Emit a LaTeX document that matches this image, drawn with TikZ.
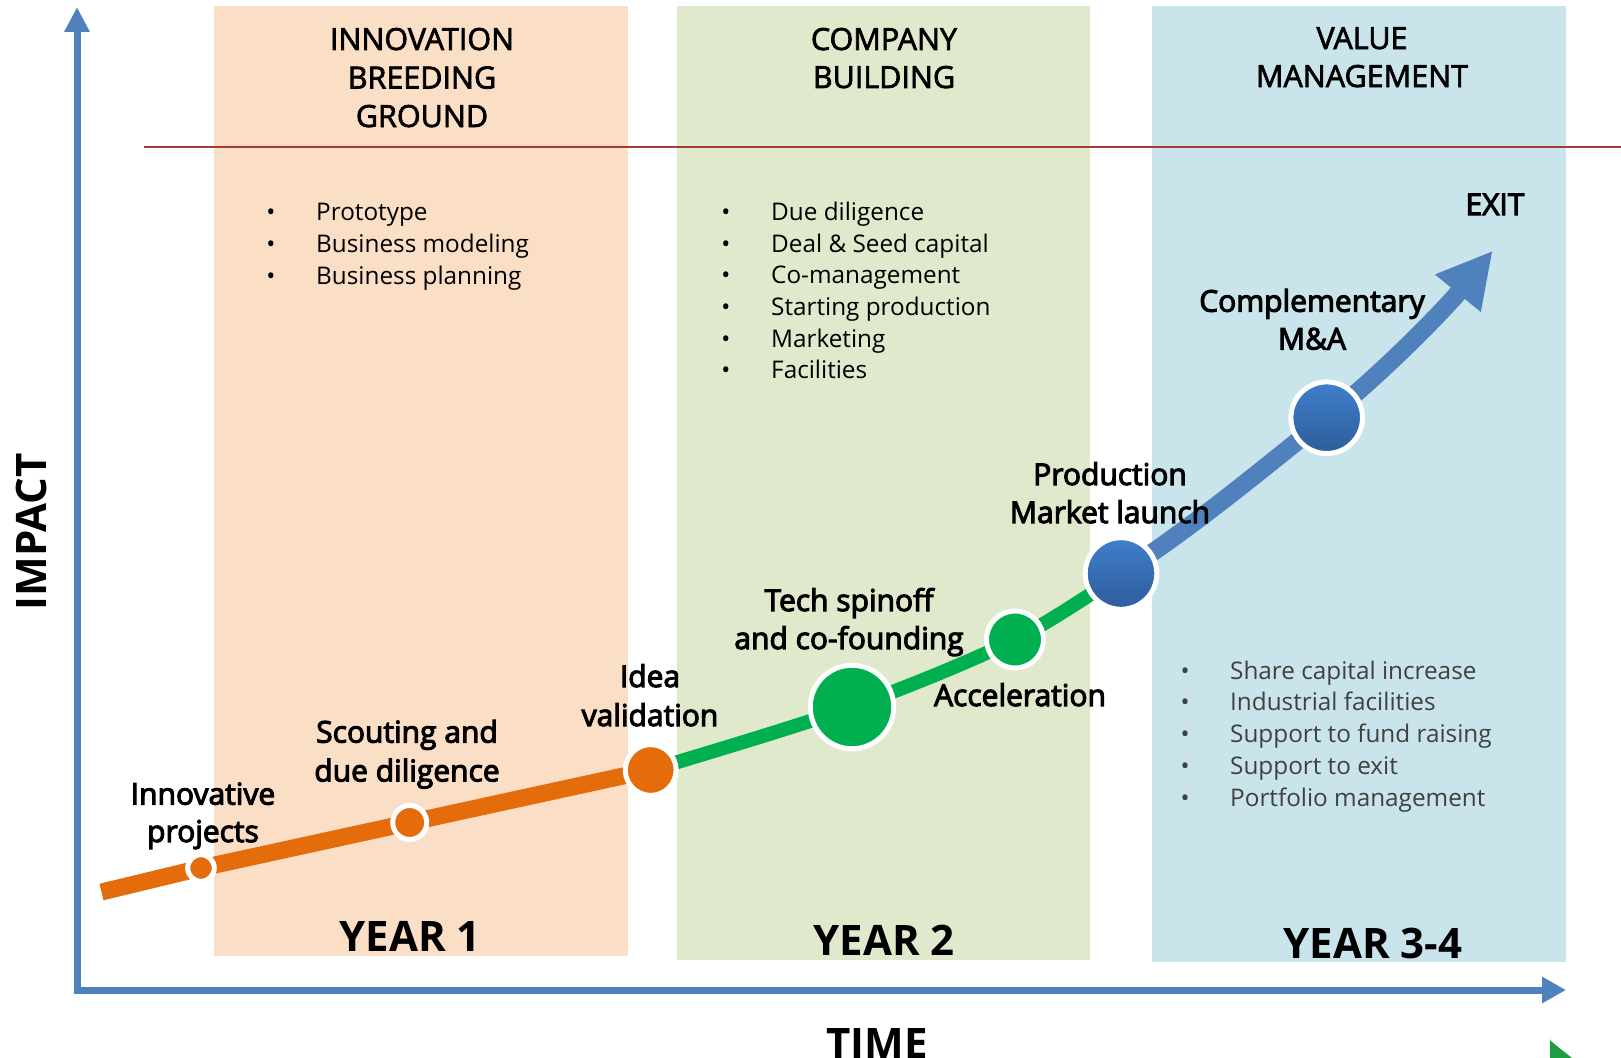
\documentclass[tikz,border=0pt]{standalone}
\usepackage{fontspec}
\setmainfont{Open Sans}
\newfontfamily\semib[FakeBold=3.5]{Open Sans}
\newfontfamily\headf[FakeBold=2.3]{Open Sans}
\usetikzlibrary{arrows.meta}
\definecolor{panelO}{HTML}{FADEC6}
\definecolor{panelG}{HTML}{E1E9CD}
\definecolor{panelB}{HTML}{C9E5EB}
\definecolor{axisblue}{HTML}{4F81BD}
\definecolor{redrule}{HTML}{A33A35}
\definecolor{orangeline}{HTML}{E46C0A}
\definecolor{greenline}{HTML}{00B050}
\definecolor{bluetop}{HTML}{3F7FCC}
\definecolor{bluebot}{HTML}{2E5C9A}
\definecolor{graytext}{HTML}{404040}
\definecolor{fragment}{HTML}{1F9D45}
\pgfdeclarelayer{back}
\pgfdeclarelayer{lines}
\pgfsetlayers{back,lines,main}
\begin{document}
\begin{tikzpicture}[x=1pt,y=-1pt,
  head/.style={font=\headf\fontsize{30.5pt}{36pt}\selectfont, anchor=base, inner sep=0pt},
  lbl/.style={font=\semib\fontsize{30pt}{36pt}\selectfont, anchor=base, inner sep=0pt},
  item/.style={font=\fontsize{24.3pt}{30pt}\selectfont, anchor=base west, inner sep=0pt},
  dotmark/.style={font=\fontsize{24pt}{30pt}\selectfont, anchor=base, inner sep=0pt},
  yr/.style={font=\bfseries\fontsize{42pt}{50pt}\selectfont, anchor=base, inner sep=0pt},
  ring/.style={circle, draw=white, line width=5pt, inner sep=0pt, outer sep=0pt},
  odot/.style={ring, fill=orangeline},
  gdot/.style={ring, fill=greenline},
  bdot/.style={ring, top color=bluetop, bottom color=bluebot, minimum size=71.6pt},
  axis/.style={draw=axisblue, line width=7pt, line join=miter},
  oline/.style={draw=orangeline, line width=17pt},
  gline/.style={draw=greenline, line width=14pt},
  bline/.style={draw=axisblue, fill=none, line width=18pt}
]
\useasboundingbox (0,0) rectangle (1621,1057);
\clip (0,0) rectangle (1621,1057);

\begin{pgfonlayer}{back}
  \fill[panelO] (214,6) rectangle (628,956);
  \fill[panelG] (677,6) rectangle (1090,960);
  \fill[panelB] (1152,6) rectangle (1566,962);
  \draw[redrule, line width=2pt] (144,147) -- (1621,147);
\end{pgfonlayer}

% axes
\coordinate (origin) at (77,990);
\coordinate (ytip) at (77,7);
\coordinate (xtip) at (1566,990);
\draw[axis, {Triangle[length=25pt,width=24pt]}-{Triangle[length=24pt,width=25pt]}] (ytip) -- (origin) -- (xtip);

% milestone dots
\node[odot, minimum size=26.6pt] (innov) at (201,868) {};
\node[odot, minimum size=34pt] (scout) at (409.7,822.5) {};
\node[odot, minimum size=50.8pt] (idea) at (650.7,770) {};
\node[gdot, minimum size=83.5pt] (tech) at (852,707) {};
\node[gdot, minimum size=57pt] (accel) at (1015,639.5) {};
\node[bdot] (prod) at (1121,573.5) {};
\node[bdot] (compl) at (1326.7,417.7) {};
\coordinate (ostart) at (101.5,892);
\coordinate (exittip) at (1492.7,250.7);

\begin{pgfonlayer}{lines}
  \draw[oline] (ostart) -- (innov.center) -- (scout.center) -- (idea.center);
  \draw[gline] plot[smooth, tension=0.55] coordinates {(idea.center) (tech.center) (accel.center) (prod.center)};
  \draw[bline, -{Triangle[length=55pt,width=55pt]}] (prod.center) .. controls +(70,-45) and +(-65,52) .. (compl.center) .. controls +(60,-48) and +(-45,55) .. (exittip);
\end{pgfonlayer}

% headings
\node[head] (h1a) at (422,50) {INNOVATION};
\node[head] (h1b) at (422,88.5) {BREEDING};
\node[head] (h1c) at (422,127) {GROUND};
\node[head] (h2a) at (884,50) {COMPANY};
\node[head] (h2b) at (884,88) {BUILDING};
\node[head] (h3a) at (1362,49) {VALUE};
\node[head] (h3b) at (1362,87) {MANAGEMENT};

% orange list
\node[dotmark] (ob1) at (271,220.7) {•};
\node[item] (oi1) at (316,220.7) {Prototype};
\node[dotmark] (ob2) at (271,252.3) {•};
\node[item] (oi2) at (316,252.3) {Business modeling};
\node[dotmark] (ob3) at (271,284) {•};
\node[item] (oi3) at (316,284) {Business planning};

% green list
\node[dotmark] (gb1) at (726,220.7) {•};
\node[item] (gi1) at (771,220.7) {Due diligence};
\node[dotmark] (gb2) at (726,252.3) {•};
\node[item] (gi2) at (771,252.3) {Deal \& Seed capital};
\node[dotmark] (gb3) at (726,283.9) {•};
\node[item] (gi3) at (771,283.9) {Co-management};
\node[dotmark] (gb4) at (726,315.5) {•};
\node[item] (gi4) at (771,315.5) {Starting production};
\node[dotmark] (gb5) at (726,347.1) {•};
\node[item] (gi5) at (771,347.1) {Marketing};
\node[dotmark] (gb6) at (726,378.7) {•};
\node[item] (gi6) at (771,378.7) {Facilities};

% blue list
\begin{scope}[every node/.append style={text=graytext}]
\node[dotmark] (bb1) at (1185,679) {•};
\node[item] (bi1) at (1230,679) {Share capital increase};
\node[dotmark] (bb2) at (1185,710.8) {•};
\node[item] (bi2) at (1230,710.8) {Industrial facilities};
\node[dotmark] (bb3) at (1185,742.6) {•};
\node[item] (bi3) at (1230,742.6) {Support to fund raising};
\node[dotmark] (bb4) at (1185,774.4) {•};
\node[item] (bi4) at (1230,774.4) {Support to exit};
\node[dotmark] (bb5) at (1185,806.2) {•};
\node[item] (bi5) at (1230,806.2) {Portfolio management};
\end{scope}

% milestone labels
\node[lbl] (l1a) at (203,804.6) {Innovative};
\node[lbl] (l1b) at (203,842) {projects};
\node[lbl] (l2a) at (407,742.6) {Scouting and};
\node[lbl] (l2b) at (407,781.4) {due diligence};
\node[lbl] (l3a) at (650,687) {Idea};
\node[lbl] (l3b) at (650,726) {validation};
\node[lbl] (l4a) at (849,611) {Tech spinoff};
\node[lbl] (l4b) at (849,649) {and co-founding};
\node[lbl] (l5) at (1020,706) {Acceleration};
\node[lbl] (l6a) at (1110,485) {Production};
\node[lbl] (l6b) at (1110,523) {Market launch};
\node[lbl] (l7a) at (1312,311.7) {Complementary};
\node[lbl] (l7b) at (1312,349.5) {M\&A};
\node[lbl] (lexit) at (1495,215) {EXIT};

% years and axis titles
\node[yr] (y1) at (410,951.5) {YEAR 1};
\node[yr] (y2) at (884,955.8) {YEAR 2};
\node[yr] (y3) at (1373,958.5) {YEAR 3-4};
\node[yr, rotate=90, anchor=center] (impact) at (31,531.5) {IMPACT};
\node[yr] (time) at (877,1058) {TIME};

% green fragment at bottom right
\fill[fragment] (1550,1036) -- (1550,1058) -- (1572,1058) .. controls (1562,1050) and (1554,1044) .. (1550,1040) -- cycle;
\end{tikzpicture}
\end{document}
